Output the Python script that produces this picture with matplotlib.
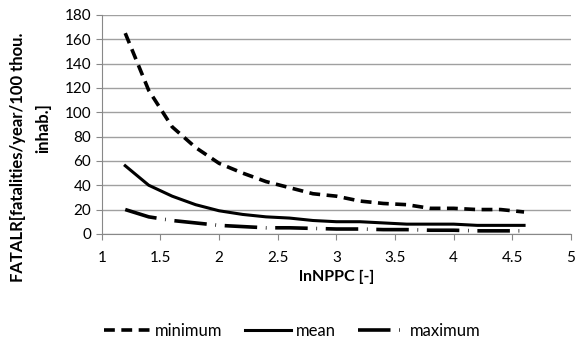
import matplotlib.pyplot as plt

plt.rcParams['font.family'] = ['Lato', 'DejaVu Sans']

x_vals = [1.2, 1.4, 1.6, 1.8, 2.0, 2.2, 2.4, 2.6, 2.8, 3.0, 3.2, 3.4, 3.6, 3.8, 4.0, 4.2, 4.4, 4.6]
minimum = [165, 118, 88, 71, 58, 50, 43, 38, 33, 31, 27, 25, 24, 21, 21, 20, 20, 18]
mean = [56, 40, 31, 24, 19, 16, 14, 13, 11, 10, 10, 9, 8, 8, 8, 7, 7, 7]
maximum = [20, 14, 11, 9, 7, 6, 5, 5, 4.5, 4, 4, 3.5, 3.5, 3, 3, 2.5, 2.5, 2.5]

fig = plt.figure(figsize=(5.75, 3.47), dpi=100)
ax = fig.add_axes([0.177, 0.326, 0.816, 0.631])

ax.plot(x_vals, minimum, color='black', lw=2.6, linestyle=(0, (3, 1.8)), label='minimum')
ax.plot(x_vals, mean, color='black', lw=2.2, label='mean')
ax.plot(x_vals, maximum, color='black', lw=2.6, linestyle=(0, (9, 2.4, 0.2, 2.4)), label='maximum')

ax.set_xlim(1, 5)
ax.set_ylim(0, 180)
ax.set_xticks([1, 1.5, 2, 2.5, 3, 3.5, 4, 4.5, 5])
ax.set_xticklabels(['1', '1.5', '2', '2.5', '3', '3.5', '4', '4.5', '5'])
ax.set_yticks(range(0, 181, 20))
ax.yaxis.grid(True, color='#a0a0a0', lw=1)
ax.set_axisbelow(True)
for s in ['top', 'right']:
    ax.spines[s].set_visible(False)
for s in ['left', 'bottom']:
    ax.spines[s].set_color('#888888')
ax.tick_params(axis='x', direction='out', length=4, color='#888888', labelsize=11, pad=8)
ax.tick_params(axis='y', length=4, color='#888888', labelsize=11)

ax.set_xlabel('lnNPPC [-]', fontsize=11.5, fontweight='bold', labelpad=4)

# y label as two separate lines, like the original
fig.text(18 / 575, 1 - 157 / 347, 'FATALR[fatalities/year/100 thou.', rotation=90,
         ha='center', va='center', fontsize=12, fontweight='bold')
fig.text(43 / 575, 1 - 128 / 347, 'inhab.]', rotation=90,
         ha='center', va='center', fontsize=12, fontweight='bold')

fig.legend(loc='center', bbox_to_anchor=(292 / 575, 1 - 331 / 347), ncol=3, frameon=False,
           fontsize=12, handlelength=2.8, handletextpad=0.3, columnspacing=1.3)

fig.savefig('out.png', dpi=100)
